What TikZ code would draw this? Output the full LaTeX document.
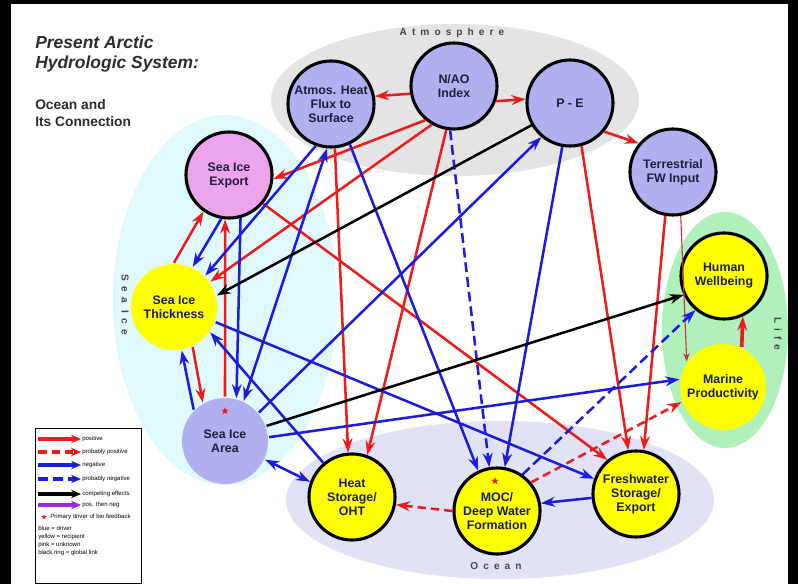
\documentclass[tikz,border=0pt]{standalone}
\usepackage{fontspec}
\setmainfont{Liberation Sans}
\usetikzlibrary{shapes,arrows.meta}

\definecolor{drivercol}{RGB}{176,176,240}
\definecolor{recipcol}{RGB}{255,255,0}
\definecolor{unknowncol}{RGB}{236,164,236}
\definecolor{posred}{RGB}{236,28,28}
\definecolor{thinred}{RGB}{212,50,50}
\definecolor{negblue}{RGB}{28,28,222}
\definecolor{mixpurple}{RGB}{150,40,230}
\definecolor{nodetext}{RGB}{30,30,60}
\definecolor{atmocol}{RGB}{228,228,228}
\definecolor{oceancol}{RGB}{226,226,246}
\definecolor{icecol}{RGB}{224,249,252}
\definecolor{lifecol}{RGB}{176,240,186}
\definecolor{regiontext}{RGB}{70,70,84}
\definecolor{titletext}{RGB}{45,45,45}

\pgfdeclareradialshading{icefade}{\pgfpoint{0bp}{0bp}}{color(0bp)=(icecol); color(28bp)=(icecol); color(50bp)=(white)}
\pgfdeclareradialshading{lifefade}{\pgfpoint{0bp}{0bp}}{color(0bp)=(lifecol); color(42bp)=(lifecol); color(50bp)=(white)}

\begin{document}
\begin{tikzpicture} [
    x=0.025cm, y=-0.025cm,
    line width=1.8pt,
    >={Stealth[length=10pt,width=7pt]},
  ]

  \tikzstyle{factor} = [
    circle,
    minimum size=2.15cm,
    inner sep=0pt,
    align=center,
    text=nodetext,
    font={\fontsize{8.8}{10}\selectfont\bfseries},
  ]
  \tikzstyle{drv}      = [factor, fill=drivercol, draw=black, line width=2.2pt]
  \tikzstyle{drvplain} = [factor, fill=drivercol]
  \tikzstyle{rcp}      = [factor, fill=recipcol, draw=black, line width=2.2pt]
  \tikzstyle{rcpplain} = [factor, fill=recipcol]
  \tikzstyle{unk}      = [factor, fill=unknowncol, draw=black, line width=2.2pt]
  \tikzstyle{prime}    = [star, star points=5, star point ratio=2.4, fill=posred, inner sep=0pt, minimum size=0.19cm]
  \tikzstyle{region}   = [
    text=regiontext,
    font={\fontsize{7.2}{8}\selectfont\bfseries\addfontfeature{LetterSpace=50}},
  ]

  \tikzstyle{posarr}     = [->, posred, line width=1.8pt]
  \tikzstyle{probposarr} = [posarr, dash pattern=on 6pt off 3.5pt]
  \tikzstyle{thinposarr} = [thinred, line width=0.8pt, -{Stealth[length=6pt,width=4.5pt]}]
  \tikzstyle{negarr}     = [->, negblue, line width=1.8pt]
  \tikzstyle{probnegarr} = [negarr, dash pattern=on 7pt off 3.5pt]
  \tikzstyle{comparr}    = [->, black, line width=1.8pt]
  \tikzstyle{lgd}        = [line width=2.4pt, -{Stealth[length=7pt,width=6pt]}]
  \tikzstyle{lgdtext}    = [anchor=west, inner sep=0pt, text=black, font={\fontsize{4.3}{5.6}\selectfont}]

  \useasboundingbox (0,0) rectangle (798,584);
  \fill[black] (0,0) rectangle (798,584);
  \fill[white] (11,4) rectangle (788,584);

  % background areas
  \shade[shading=icefade] (225,300) ellipse [x radius=112, y radius=185];
  \fill[atmocol] (455,100) ellipse [x radius=184, y radius=76];
  \fill[oceancol] (500,500) ellipse [x radius=214, y radius=79];
  \shade[shading=lifefade] (725,330) ellipse [x radius=63, y radius=118];

  \node[region]            (atmolabel)  at (452,33)  {Atmosphere};
  \node[region]            (oceanlabel) at (496,566) {Ocean};
  \node[region, rotate=-90] (icelabel)   at (125,305) {Sea Ice};
  \node[region, rotate=-90] (lifelabel)  at (778,334) {Life};

  % title
  \node[anchor=north west, align=left, inner sep=0pt, text=titletext,
        font={\fontsize{12.4}{14.2}\selectfont\bfseries\itshape}]
        (title) at (34,35) {Present Arctic\\Hydrologic System:};
  \node[anchor=north west, align=left, inner sep=0pt, text=titletext,
        font={\fontsize{9.8}{12}\selectfont\bfseries}]
        (subtitle) at (34,98) {Ocean and\\Its Connection};

  % factors
  \node[drv]      (ahf) at (331,104) {Atmos. Heat\\Flux to\\Surface};
  \node[drv]      (nao) at (454,86)  {N/AO\\Index};
  \node[drv]      (pe)  at (570,103) {P - E};
  \node[drv]      (tfw) at (673,172) {Terrestrial\\FW Input};
  \node[unk]      (sie) at (229,175) {Sea Ice\\Export};
  \node[rcpplain] (sit) at (174,307) {Sea Ice\\Thickness};
  \node[drvplain] (sia) at (225,441) {Sea Ice\\Area};
  \node[rcp]      (oht) at (352,497) {Heat\\Storage/\\OHT};
  \node[rcp]      (moc) at (497,511) {MOC/\\Deep Water\\Formation};
  \node[rcp]      (fws) at (636,494) {Freshwater\\Storage/\\Export};
  \node[rcp]      (hw)  at (724,276) {Human\\Wellbeing};
  \node[rcpplain] (mp)  at (723,387) {Marine\\Productivity};

  \node[prime] (siastar) at (225,411) {};
  \node[prime] (mocstar) at (495,481) {};

  % positive
  \path[posarr] (nao.190)  edge (ahf.10);
  \path[posarr] (nao.-20)  edge (pe.175);
  \path[posarr] (pe.-40)   edge (tfw.140);
  \path[posarr] (nao.230)  edge (sie.-5);
  \path[posarr] (nao.240)  edge (sit.35);
  \path[posarr] (nao.260)  edge (oht.70);
  \path[posarr] (ahf.-85)  edge (oht.95);
  \path[posarr] (pe.-75)   edge (fws.100);
  \path[posarr] (tfw.-100) edge (fws.80);
  \path[posarr] (sie.-40)  edge (fws.130);
  \path[posarr] (sit.90)   edge (sie.235);
  \path[posarr] (sia.90)   edge (sie.-95);
  \path[posarr] (sit.-65)  edge (sia.120);
  \path[posarr, line width=2.6pt] (mp.65) edge (hw.-65);
  \path[thinposarr] (tfw.-80) edge (mp.145);

  % probably positive
  \path[probposarr] (moc.180) edge (oht.-10);
  \path[probposarr] (moc.40)  edge (mp.200);

  % negative
  \path[negarr]      (ahf.250) edge (sit.45);
  \path[negarr, <->] (ahf.265) edge (sia.65);
  \path[negarr]      (ahf.-65) edge (moc.115);
  \path[negarr]      (pe.-100) edge (moc.80);
  \path[negarr]      (sia.40)  edge (pe.230);
  \path[negarr]      (sit.-20) edge (fws.160);
  \path[negarr]      (oht.130) edge (sit.-35);
  \path[negarr, <->] (sia.-25) edge (oht.160);
  \path[negarr]      (sia.5)   edge (mp.170);
  \path[negarr]      (fws.185) edge (moc.10);
  \path[negarr]      (sie.260) edge (sit.65);
  \path[negarr]      (sie.-75) edge (sia.75);
  \path[negarr]      (sia.135) edge (sit.-80);

  % probably negative
  \path[probnegarr] (nao.-95) edge (moc.100);
  \path[probnegarr] (moc.55)  edge (hw.230);

  % competing
  \path[comparr] (pe.210) edge (sit.15);
  \path[comparr] (sia.20) edge (hw.205);

  % legend
  \draw[line width=0.6pt] (35,428) rectangle (141,583);
  \node[lgdtext] (lgdpos)     at (81,439) {positive};
  \node[lgdtext] (lgdprobpos) at (81,452) {probably positive};
  \node[lgdtext] (lgdneg)     at (81,465) {negative};
  \node[lgdtext] (lgdprobneg) at (81,479) {probably negative};
  \node[lgdtext] (lgdcomp)    at (81,494) {competing effects};
  \node[lgdtext] (lgdposneg)  at (81,505) {pos. then neg};
  \node[prime, minimum size=0.14cm] (lgdstar) at (44,517) {};
  \node[lgdtext] (lgdprime)   at (49,517) {Primary driver of bio feedback};
  \node[lgdtext, anchor=north west, align=left] (lgdkey) at (37,525)
    {blue = driver\\yellow = recipient\\pink = unknown\\black ring = global link};

  \draw[posarr, lgd]     ([xshift=-1.07cm]lgdpos.west)     -- (lgdpos.west);
  \draw[probposarr, lgd] ([xshift=-1.07cm]lgdprobpos.west) -- (lgdprobpos.west);
  \draw[negarr, lgd]     ([xshift=-1.07cm]lgdneg.west)     -- (lgdneg.west);
  \draw[probnegarr, lgd] ([xshift=-1.07cm]lgdprobneg.west) -- (lgdprobneg.west);
  \draw[comparr, lgd]    ([xshift=-1.07cm]lgdcomp.west)    -- (lgdcomp.west);
  \draw[mixpurple, lgd]  ([xshift=-1.07cm]lgdposneg.west)  -- (lgdposneg.west);

\end{tikzpicture}
\end{document}
